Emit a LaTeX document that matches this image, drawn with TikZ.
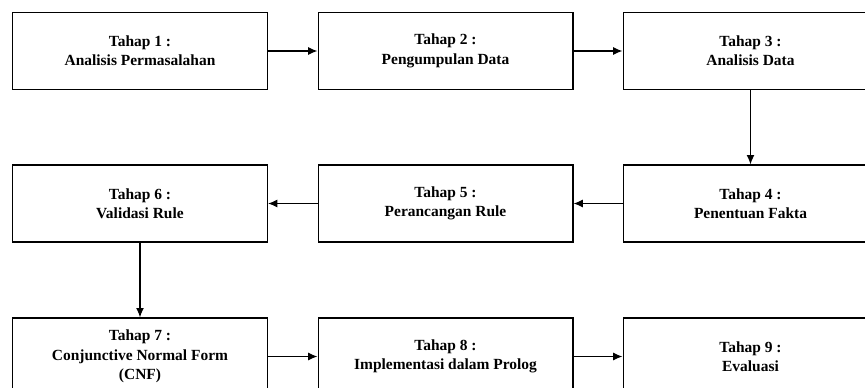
\documentclass[tikz,border=0pt]{standalone}
\usepackage{fontspec}
\setmainfont{Liberation Serif}
\usetikzlibrary{arrows.meta,positioning}

\begin{document}
\begin{tikzpicture}[x=0.75pt,y=-0.75pt,
    tahap/.style={draw,line width=1pt,minimum width=191pt,minimum height=57.75pt,
      align=center,inner sep=2pt,font=\bfseries\fontsize{11.6}{14.5}\selectfont}]
    \path[use as bounding box,clip] (0,0) rectangle (865,387);

    \node[tahap](T1) at (140,51) {Tahap 1 :\\Analisis Permasalahan};
    \node[tahap](T2) at (445.5,51) {Tahap 2 :\\Pengumpulan Data};
    \node[tahap](T3) at (750.5,51) {Tahap 3 :\\Analisis Data};
    \node[tahap](T4) at (750.5,203.5) {Tahap 4 :\\Penentuan Fakta};
    \node[tahap](T5) at (445.5,203.5) {Tahap 5 :\\Perancangan Rule};
    \node[tahap](T6) at (140,203.5) {Tahap 6 :\\Validasi Rule};
    \node[tahap](T7) at (140,356.5) {Tahap 7 :\\Conjunctive Normal Form\\(CNF)};
    \node[tahap](T8) at (445.5,356.5) {Tahap 8 :\\Implementasi dalam Prolog};
    \node[tahap](T9) at (750.5,356.5) {Tahap 9 :\\Evaluasi};

    \begin{scope}
      \draw[-{Latex[length=7pt,width=6pt]},line width=0.9pt]
      (T1) edge (T2)
      (T2) edge (T3)
      (T3) edge (T4)
      (T4) edge (T5)
      (T5) edge (T6)
      (T6) edge (T7)
      (T7) edge (T8)
      (T8) edge (T9);
    \end{scope}
  \end{tikzpicture}
\end{document}
